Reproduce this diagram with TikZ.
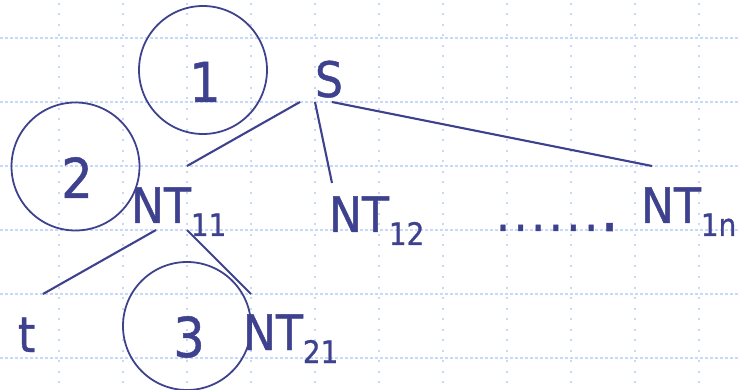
\documentclass[tikz,border=0pt]{standalone}
\usepackage{fontspec}
\setmainfont{DejaVu Sans Condensed}
\newfontfamily\heavyish[FakeBold=0.9]{DejaVu Sans Condensed}
\definecolor{ink}{RGB}{62,66,142}
\definecolor{gridc}{RGB}{200,216,250}
\begin{document}
\begin{tikzpicture}[x=1pt,y=-1pt,
  txt/.style={inner sep=0pt,outer sep=0pt,text=ink,font=\heavyish\fontsize{49}{49}\selectfont},
  num/.style={inner sep=0pt,outer sep=0pt,text=ink,font=\heavyish\fontsize{55}{55}\selectfont,anchor=base},
  ring/.style={draw=ink,line width=1.8pt},
  edge/.style={draw=ink,line width=2.1pt},
  hgrid/.style={draw=gridc,line width=2pt,dash pattern=on 3pt off 2pt},
  vgrid/.style={draw=gridc,line width=2pt,dash pattern=on 2pt off 8.5pt}]
\useasboundingbox (0,0) rectangle (739,390);
\newcommand{\sbx}[1]{\raisebox{-13pt}{\fontsize{31}{31}\selectfont #1}}
% grid
\foreach \yy in {38,102,166,230,294,358} \draw[hgrid] (0,\yy) -- (739,\yy);
\foreach \xx in {59,123,187,251,315,379,443,507,571,635,699} \draw[vgrid] (\xx,3) -- (\xx,390);
% circles
\draw[ring] (203,70) circle (64);
\draw[ring] (75.5,166.5) circle (64);
\draw[ring] (187,326) circle (64);
% numbers
\node[num] (n1) at (205,102) {1};
\node[num] (n2) at (77,198) {2};
\node[num] (n3) at (189,357) {3};
% labels
\node[txt,anchor=base west] (S) at (315,97) {S};
\node[txt,anchor=base west] (nt11) at (131,223) {NT\sbx{11}};
\node[txt,anchor=base west] (nt12) at (329,232) {NT\sbx{12}};
\node[txt,anchor=base west] (nt1n) at (641,223) {NT\sbx{1n}};
\node[txt,anchor=base west] (nt21) at (243,350) {NT\sbx{21}};
\node[txt,anchor=base west] (t) at (18,352) {t};
\node[txt,anchor=base west] (dots) at (496,231) {.\kern3.6pt.\kern3.6pt.\kern3.6pt.\kern3.6pt.\kern3.6pt.\kern2.5pt{\fontsize{64}{64}\selectfont .}};
% connector end points
\coordinate (sA) at (300,102);
\coordinate (sB) at (315,102);
\coordinate (sC) at (332,102);
\coordinate (a11) at (187,166);
\coordinate (a12) at (332,183);
\coordinate (a1n) at (652,166);
\coordinate (b11l) at (156,230);
\coordinate (b11r) at (187,230);
\coordinate (at) at (43,294);
\coordinate (a21) at (251,294);
\draw[edge] (sA) -- (a11);
\draw[edge] (sB) -- (a12);
\draw[edge] (sC) -- (a1n);
\draw[edge] (b11l) -- (at);
\draw[edge] (b11r) -- (a21);
\end{tikzpicture}
\end{document}
